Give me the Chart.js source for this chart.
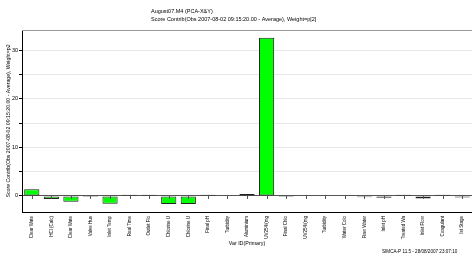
<!DOCTYPE html>
<html>
<head>
<meta charset="utf-8">
<script src="https://cdn.jsdelivr.net/npm/chart.js@4/dist/chart.umd.min.js"></script>
<style>
  html, body { margin: 0; padding: 0; background: #fff; }
  #wrap { width: 472px; height: 256px; position: relative; }
</style>
</head>
<body>
<div id="wrap"><canvas id="contribChart"></canvas></div>
<script>
// Variables on the x axis
const varNames = [
    'Clear Wate', 'HCl (Calc)', 'Clear Wate', 'Valve Hus', 'Inlet Temp', 'Real Time',
    'Outlet Flo', 'Chlorine U', 'Chlorine U', 'Final pH', 'Turbidity', 'Aluminium',
    'UV254/(mg', 'Final Chlo', 'UV254/(mg', 'Turbidity', 'Water Colo', 'Raw Water',
    'Inlet pH', 'Treated Wa', 'Inlet Flow', 'Coagulant', 'Ist Stage'
];

// Score contribution per variable
const contribValues = [
    1.4, -0.6, -1.2, -0.2, -1.6, 0.25,
    0.25, -1.65, -1.65, 0.25, 0, 0.4,
    32.6, -0.2, 0, 0, 0, -0.25,
    -0.35, 0.25, -0.5, 0.25, -0.3
];

const yMin = -3.3;
const yMax = 34.2;

const titleLines = [
    'August07.M4 (PCA-X&Y)',
    'Score Contrib(Obs 2007-08-02 09:15:20.00 - Average), Weight=p[2]'
];
const yTitle = 'Score Contrib(Obs 2007-08-02 09:15:20.00 - Average), Weight=p2';
const xTitle = 'Var ID(Primary)';
const footerText = 'SIMCA-P 11.5 - 28/08/2007 23:07:10';

const fontFamily = '"Liberation Sans", Arial, sans-serif';

// Extra drawing: header text, top frame line, small ticks on the zero line, footer
const decorPlugin = {
    id: 'decor',
    afterDraw(chart) {
        const ctx = chart.ctx;
        const area = chart.chartArea;
        const xs = chart.scales.x;
        const ys = chart.scales.y;
        ctx.save();

        // top frame line
        ctx.strokeStyle = '#9a9a9a';
        ctx.lineWidth = 1;
        ctx.beginPath();
        ctx.moveTo(area.left, area.top + 0.5);
        ctx.lineTo(area.right, area.top + 0.5);
        ctx.stroke();

        // little ticks below the zero line
        const y0 = ys.getPixelForValue(0);
        ctx.strokeStyle = '#555';
        varNames.forEach((n, i) => {
            const px = Math.round(xs.getPixelForValue(i)) + 0.5;
            ctx.beginPath();
            ctx.moveTo(px, y0);
            ctx.lineTo(px, y0 + 3);
            ctx.stroke();
        });

        // header
        ctx.fillStyle = '#000';
        ctx.font = '5.5px ' + fontFamily;
        ctx.textAlign = 'left';
        ctx.textBaseline = 'middle';
        ctx.fillText(titleLines[0], 151, 11.5);
        ctx.fillText(titleLines[1], 151, 19.5);

        // footer
        ctx.font = '4.6px ' + fontFamily;
        ctx.fillText(footerText, 382, 252);
        ctx.restore();
    }
};

const ctxContrib = document.getElementById('contribChart').getContext('2d');
const contribChart = new Chart(ctxContrib, {
    type: 'bar',
    data: {
        labels: varNames,
        datasets: [{
            data: contribValues,
            backgroundColor: '#00ff00',
            borderColor: '#222',
            borderWidth: 1,
            borderSkipped: false,
            categoryPercentage: 0.8,
            barPercentage: 0.97
        }]
    },
    options: {
        responsive: true,
        maintainAspectRatio: false,
        animation: false,
        layout: { padding: { top: 30, left: 0, right: 0, bottom: 0 } },
        plugins: {
            legend: { display: false },
            title: { display: false },
            tooltip: { enabled: false }
        },
        scales: {
            x: {
                type: 'category',
                grid: { display: true, drawOnChartArea: false, drawTicks: false },
                border: { display: true, color: '#000', width: 1 },
                ticks: {
                    autoSkip: false,
                    minRotation: 90,
                    maxRotation: 90,
                    padding: 4,
                    color: '#000',
                    font: { size: 4.5, family: fontFamily }
                },
                title: {
                    display: true,
                    text: xTitle,
                    color: '#000',
                    font: { size: 5.3, family: fontFamily },
                    padding: { top: 0, bottom: 9 }
                },
                afterFit(scale) { scale.height = 44; }
            },
            y: {
                min: yMin,
                max: yMax,
                grid: {
                    color: (c) => c.tick && c.tick.value === 0 ? '#555' : '#e6e6e6',
                    tickColor: '#000',
                    tickLength: 3
                },
                border: { display: true, color: '#000', width: 1 },
                ticks: {
                    stepSize: 5,
                    includeBounds: false,
                    padding: 1,
                    color: '#000',
                    font: { size: 5.5, family: fontFamily },
                    callback: (v) => (v % 10 === 0 ? v : '')
                },
                title: {
                    display: true,
                    text: yTitle,
                    color: '#000',
                    font: { size: 5.2, family: fontFamily },
                    padding: { top: 5, bottom: 0 }
                },
                afterFit(scale) { scale.width = 22; }
            }
        }
    },
    plugins: [decorPlugin]
});
</script>
</body>
</html>
